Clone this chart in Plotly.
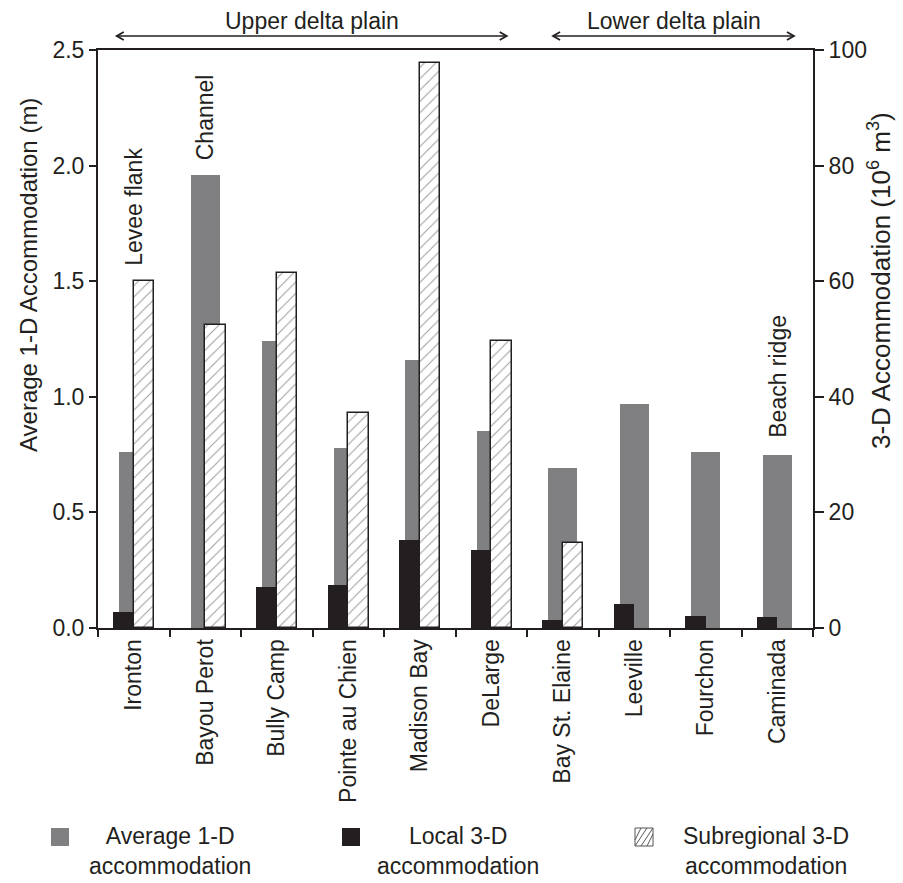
import plotly.graph_objects as go

categories = ["Ironton", "Bayou Perot", "Bully Camp", "Pointe au Chien", "Madison Bay",
              "DeLarge", "Bay St. Elaine", "Leeville", "Fourchon", "Caminada"]
avg_1d = [0.76, 1.96, 1.24, 0.78, 1.16, 0.85, 0.69, 0.97, 0.76, 0.75]
local_3d = [2.7, None, 7.1, 7.4, 15.3, 13.5, 1.4, 4.1, 2.1, 1.9]
subregional_3d = [60.1, 52.5, 61.5, 37.2, 97.7, 49.7, 14.7, None, None, None]

FONT = "Liberation Sans, Arial, Helvetica, sans-serif"
INK = "#231f20"
GRAY = "#808083"
FS = 23

fig = go.Figure()
fig.add_trace(go.Bar(x=categories, y=avg_1d, yaxis="y", offset=-0.2, width=0.4,
                     marker=dict(color=GRAY, line=dict(width=0)),
                     name="Average 1-D accommodation", showlegend=False))
fig.add_trace(go.Bar(x=categories, y=local_3d, yaxis="y2", offset=-0.29, width=0.29,
                     marker=dict(color=INK, line=dict(width=0)),
                     name="Local 3-D accommodation", showlegend=False))
fig.add_trace(go.Bar(x=categories, y=subregional_3d, yaxis="y2", offset=0.0, width=0.29,
                     marker=dict(color="white", line=dict(width=1.5, color=INK),
                                 pattern=dict(shape="/", fgcolor="#333333", bgcolor="white",
                                              size=8, solidity=0.12)),
                     name="Subregional 3-D accommodation", showlegend=False))

PL, PR, PT, PB = 98, 813, 50, 628


def px_x(px):
    return (px - PL) / float(PR - PL)


def px_y(py):
    return (PB - py) / float(PB - PT)


def idx_px(i):
    return PL + (i + 0.5) * (PR - PL) / 10.0


annotations = []
shapes = []
# axis titles
annotations.append(dict(text="Average 1-D Accommodation (m)", xref="paper", yref="paper",
                        x=px_x(28), y=px_y(275), textangle=-90, showarrow=False,
                        xanchor="center", yanchor="middle",
                        font=dict(family=FONT, size=24, color=INK)))
annotations.append(dict(text="3-D Accommodation (10<sup>6</sup> m<sup>3</sup>)", xref="paper", yref="paper",
                        x=px_x(879), y=px_y(280), textangle=-90, showarrow=False,
                        xanchor="center", yanchor="middle",
                        font=dict(family=FONT, size=26, color=INK)))
# bar labels
for cat, txt, bottom in [(0, "Levee flank", 268), (1, "Channel", 162), (9, "Beach ridge", 440)]:
    annotations.append(dict(text=txt, xref="x", yref="paper", x=cat, y=px_y(bottom),
                            textangle=-90, showarrow=False, xanchor="center", yanchor="bottom",
                            font=dict(family=FONT, size=FS, color=INK)))
# region arrows (double-headed)
AY = 36
for x0, x1, label in [(-0.238, 5.216, "Upper delta plain"), (5.864, 9.234, "Lower delta plain")]:
    p0, p1 = idx_px(x0), idx_px(x1)
    shapes.append(dict(type="line", xref="paper", yref="paper",
                       x0=px_x(p0), x1=px_x(p1), y0=px_y(AY), y1=px_y(AY),
                       line=dict(width=1.5, color=INK)))
    for tip, d in [(p0, 1), (p1, -1)]:
        path = "M {:.5f} {:.5f} L {:.5f} {:.5f} L {:.5f} {:.5f}".format(
            px_x(tip + d * 7), px_y(AY - 4), px_x(tip), px_y(AY), px_x(tip + d * 7), px_y(AY + 4))
        shapes.append(dict(type="path", xref="paper", yref="paper", path=path,
                           line=dict(width=1.8, color=INK)))
    annotations.append(dict(text=label, xref="x", yref="paper", x=(x0 + x1) / 2, y=px_y(21),
                            showarrow=False, xanchor="center", yanchor="middle",
                            font=dict(family=FONT, size=FS, color=INK)))

# legend (manual)
legend_items = [
    (51, 170, "Average 1-D<br>accommodation", "gray"),
    (342, 458, "Local 3-D<br>accommodation", "black"),
    (635, 766, "Subregional 3-D<br>accommodation", "hatch"),
]
for mx, tx, txt, kind in legend_items:
    x0, x1 = px_x(mx), px_x(mx + 18)
    y0, y1 = px_y(846), px_y(828)
    if kind == "gray":
        shapes.append(dict(type="rect", xref="paper", yref="paper", x0=x0, x1=x1, y0=y0, y1=y1,
                           fillcolor=GRAY, line=dict(width=0)))
    elif kind == "black":
        shapes.append(dict(type="rect", xref="paper", yref="paper", x0=x0, x1=x1, y0=y0, y1=y1,
                           fillcolor=INK, line=dict(width=0)))
    else:
        shapes.append(dict(type="rect", xref="paper", yref="paper", x0=x0, x1=x1, y0=y0, y1=y1,
                           fillcolor="white", line=dict(width=1, color="#555555")))
        for a, b in [((mx, 840), (mx + 6, 828)), ((mx, 846), (mx + 12, 828)),
                     ((mx + 6, 846), (mx + 18, 828)), ((mx + 12, 846), (mx + 18, 834))]:
            shapes.append(dict(type="line", xref="paper", yref="paper",
                               x0=px_x(a[0]), y0=px_y(a[1]), x1=px_x(b[0]), y1=px_y(b[1]),
                               line=dict(width=1, color="#555555")))
    annotations.append(dict(text=txt, xref="paper", yref="paper", x=px_x(tx), y=px_y(851),
                            showarrow=False, xanchor="center", yanchor="middle", align="center",
                            font=dict(family=FONT, size=FS, color=INK)))

fig.update_layout(
    width=903, height=883,
    margin=dict(l=PL, r=903 - PR, t=PT, b=883 - PB, autoexpand=False),
    paper_bgcolor="white", plot_bgcolor="white",
    barmode="overlay", bargap=0,
    showlegend=False,
    font=dict(family=FONT, size=FS, color=INK),
    xaxis=dict(type="category", range=[-0.5, 9.5], showline=True, linecolor=INK, linewidth=2,
               mirror=True, ticks="outside", tickson="boundaries", ticklen=7, tickwidth=1.5,
               tickcolor=INK, tickangle=-90, showgrid=False, zeroline=False,
               tickfont=dict(family=FONT, size=FS, color=INK)),
    yaxis=dict(range=[0, 2.5], dtick=0.5, tickformat=".1f", showline=True, linecolor=INK,
               linewidth=2, ticks="outside", ticklen=7, tickwidth=1.5, tickcolor=INK,
               showgrid=False, zeroline=False, tickfont=dict(family=FONT, size=FS, color=INK)),
    yaxis2=dict(range=[0, 100], dtick=20, overlaying="y", side="right", showline=True,
                linecolor=INK, linewidth=2, ticks="outside", ticklen=9, tickwidth=1.5,
                tickcolor=INK, showgrid=False, zeroline=False,
                tickfont=dict(family=FONT, size=FS, color=INK)),
    annotations=annotations,
    shapes=shapes,
)

fig.write_html("out.html",
               config={"displayModeBar": False},
               post_script="document.body.style.margin='0';document.body.style.padding='0';")
